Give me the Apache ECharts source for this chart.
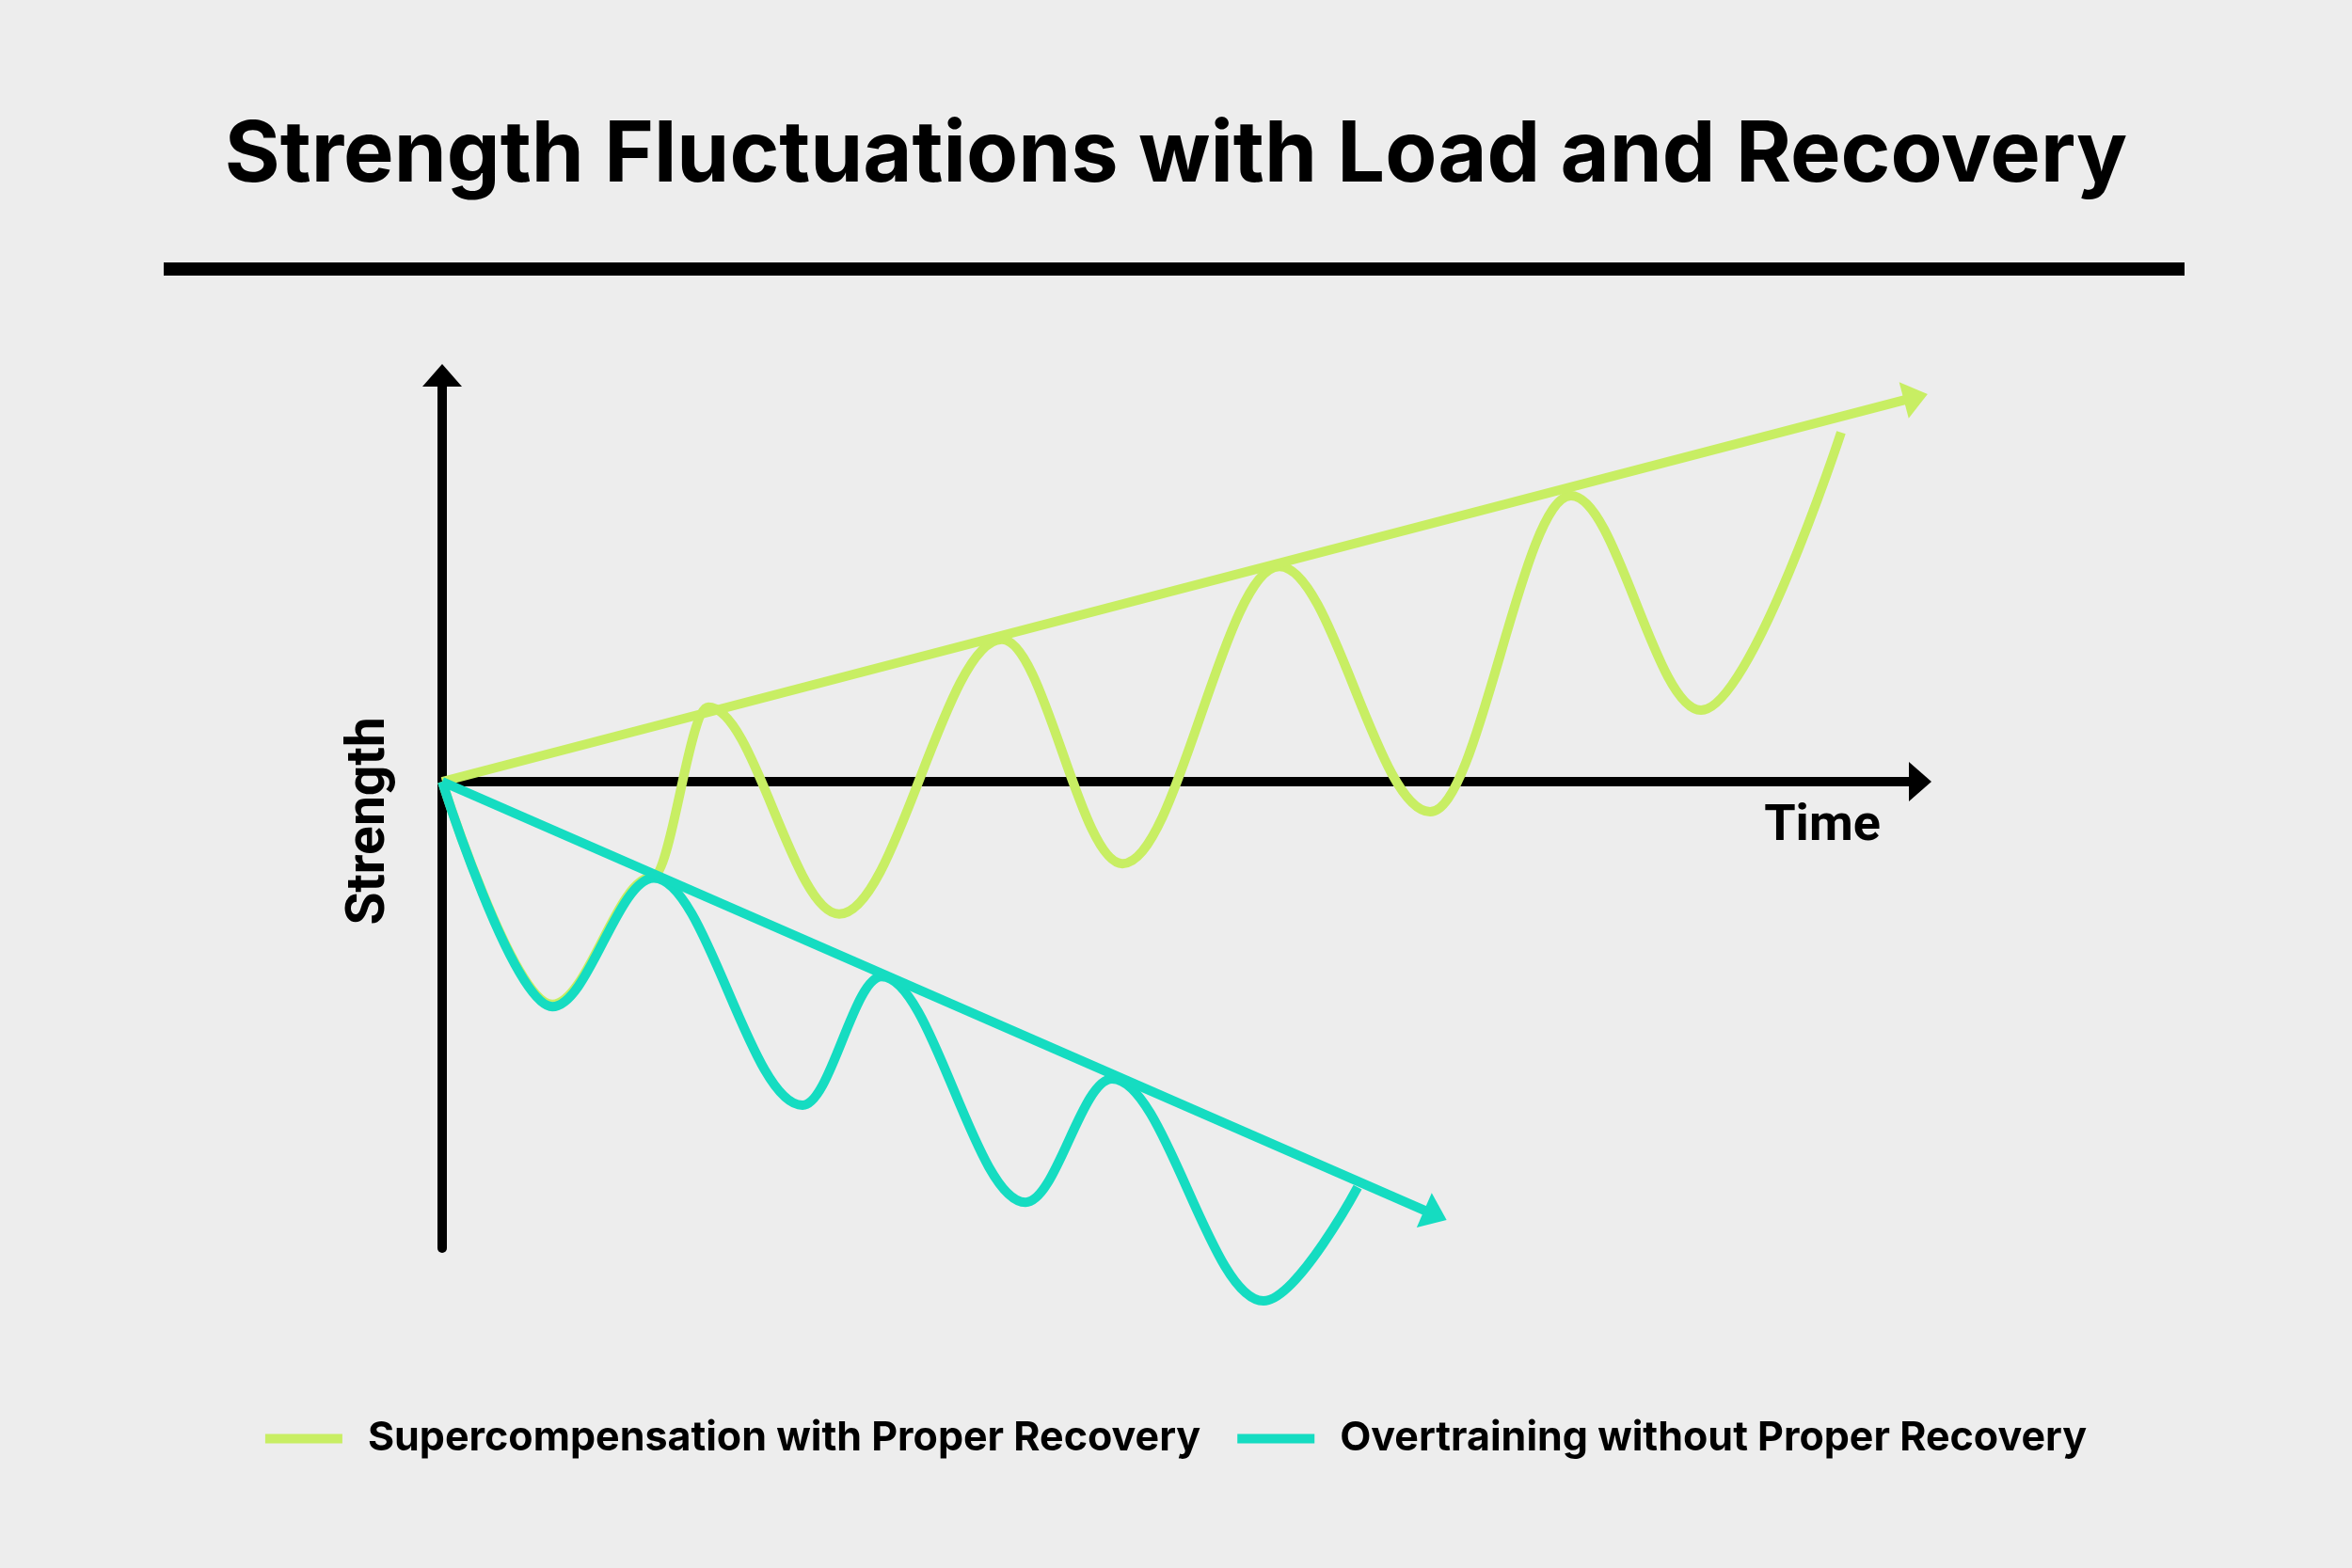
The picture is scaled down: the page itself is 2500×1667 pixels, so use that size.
<!DOCTYPE html>
<html>
<head>
<meta charset="utf-8">
<title>Strength Fluctuations with Load and Recovery</title>
<script src="https://cdn.jsdelivr.net/npm/echarts@6.0.0/dist/echarts.min.js"></script>
<style>
    html, body { margin: 0; padding: 0; background: #ededed; }
    #main_chart { width: 2500px; height: 1667px; }
</style>
</head>
<body>
<div id="main_chart"></div>
<script>
// 数据：时间 / 力量，按图读出的波峰波谷
var super_time = [0, 7.45, 14.2, 18.01, 26.86, 37.87, 46.02, 56.65, 66.84, 76.38, 85.17, 94.65];
var super_strength = [0, -29.6, -12.7, 9.9, -17.6, 18.9, -10.9, 28.6, -4.0, 38.0, 9.5, 46.4];

var over_time = [0, 7.45, 14.32, 24.38, 29.73, 39.47, 45.32, 55.57, 61.94];
var over_strength = [0, -29.9, -12.8, -43.0, -25.9, -55.9, -39.5, -69.0, -53.9];

// 趋势线 起点 / 终点
var super_trend = [[0, 0], [99.7, 51.1]];
var over_trend = [[0, 0], [67.2, -57.6]];

var G_colors = ['#c8ee63', '#15dcc1'];
var title_font = 'Inter';
var label_font = 'Roboto';

function zip_points(xs, ys) {
    let out = [];
    for (let i = 0; i < xs.length; i++) {
        out.push([xs[i], ys[i]]);
    }
    return out;
}

function trend_mark(trend, color) {
    return {
        silent: true,
        symbol: ['none', 'triangle'],
        symbolSize: [40, 26],
        label: {show: false},
        emphasis: {disabled: true},
        itemStyle: {color: color},
        lineStyle: {type: 'solid', width: 10, color: color, opacity: 1},
        data: [[{coord: trend[0]}, {coord: trend[1]}]]
    };
}

var main_chart = echarts.init(document.getElementById('main_chart'), null, {renderer: 'canvas'});

var option = {
    animation: false,
    backgroundColor: '#ededed',
    color: G_colors,
    title: {
        text: 'Strength Fluctuations with Load and Recovery',
        left: 'center',
        top: 116,
        textStyle: {
            fontFamily: title_font,
            fontSize: 90,
            fontWeight: 'bold',
            color: '#000'
        }
    },
    graphic: [
        {
            type: 'rect',
            shape: {x: 174, y: 279, width: 2148, height: 14},
            style: {fill: '#000'}
        }
    ],
    legend: {
        top: 1503,
        left: 'center',
        icon: 'rect',
        itemWidth: 82,
        itemHeight: 10,
        itemGap: 39,
        textStyle: {
            fontFamily: title_font,
            fontSize: 43,
            fontWeight: 'bold',
            color: '#000',
            padding: [0, 0, 0, 22]
        },
        data: ['Supercompensation with Proper Recovery', 'Overtraining without Proper Recovery']
    },
    grid: {
        left: 470,
        right: 459,
        top: 399,
        bottom: 340,
        containLabel: false
    },
    xAxis: {
        type: 'value',
        min: 0,
        max: 100,
        name: 'Time',
        nameLocation: 'end',
        nameGap: -104,
        nameTextStyle: {
            fontFamily: label_font,
            fontSize: 54,
            fontWeight: 'bold',
            color: '#000',
            align: 'center',
            verticalAlign: 'top',
            padding: [21, 0, 0, 0]
        },
        axisLine: {
            show: true,
            onZero: true,
            symbol: ['none', 'triangle'],
            symbolSize: [42, 24],
            lineStyle: {color: '#000', width: 10}
        },
        axisTick: {show: false},
        axisLabel: {show: false},
        splitLine: {show: false}
    },
    yAxis: {
        type: 'value',
        min: -62,
        max: 54,
        name: 'Strength',
        nameLocation: 'middle',
        nameGap: 48,
        nameRotate: 90,
        nameTextStyle: {
            fontFamily: label_font,
            fontSize: 57,
            fontWeight: 'bold',
            color: '#000',
            padding: [0, 20, 0, 0]
        },
        axisLine: {
            show: true,
            onZero: false,
            symbol: ['none', 'triangle'],
            symbolSize: [42, 24],
            lineStyle: {color: '#000', width: 10}
        },
        axisTick: {show: false},
        axisLabel: {show: false},
        splitLine: {show: false}
    },
    series: [
        {
            name: 'Supercompensation with Proper Recovery',
            type: 'line',
            smooth: 0.35,
            smoothMonotone: 'x',
            showSymbol: false,
            clip: false,
            silent: true,
            data: zip_points(super_time, super_strength),
            lineStyle: {width: 10, color: G_colors[0], cap: 'butt'},
            itemStyle: {color: G_colors[0]},
            markLine: trend_mark(super_trend, G_colors[0])
        },
        {
            name: 'Overtraining without Proper Recovery',
            type: 'line',
            smooth: 0.35,
            smoothMonotone: 'x',
            showSymbol: false,
            clip: false,
            silent: true,
            data: zip_points(over_time, over_strength),
            lineStyle: {width: 10, color: G_colors[1], cap: 'butt'},
            itemStyle: {color: G_colors[1]},
            markLine: trend_mark(over_trend, G_colors[1])
        }
    ]
};
main_chart.setOption(option);
</script>
</body>
</html>
